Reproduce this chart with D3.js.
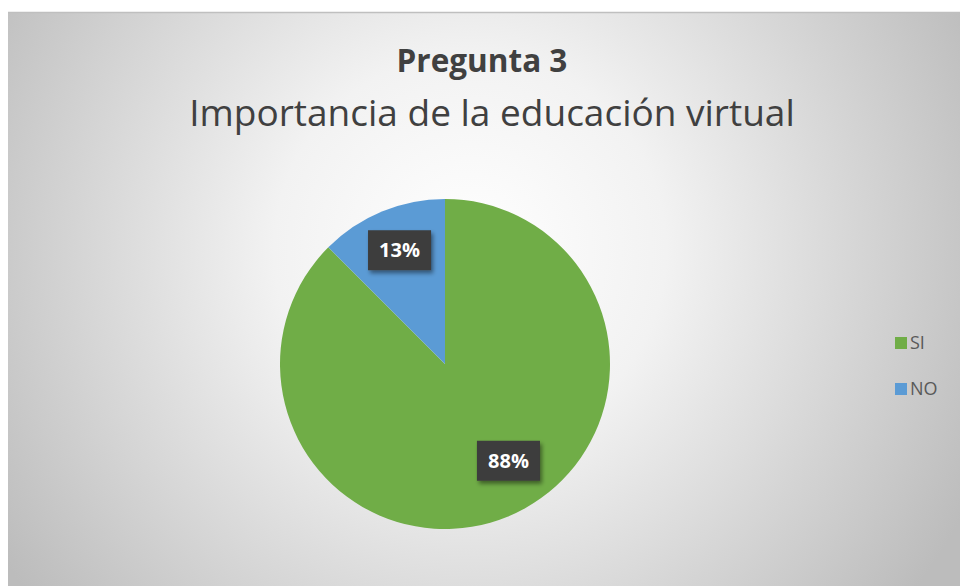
<!DOCTYPE html>
<html>
<head>
<meta charset="utf-8">
<script src="https://cdn.jsdelivr.net/npm/d3@7"></script>
<style>
  body { margin: 0; background: #fff; }
  svg { display: block; font-family: "Open Sans", "Noto Sans", sans-serif; }
</style>
</head>
<body>
<div id="chart"></div>
<script>
// data
var categories = ["SI", "NO"];
var values = [87.5, 12.5];
var labels = ["88%", "13%"];
var colors = ["#70ad47", "#5b9bd5"];

var svgWidth = 960;
var svgHeight = 586;

var svg = d3.select("#chart")
  .append("svg")
  .attr("width", svgWidth)
  .attr("height", svgHeight);

// background gradient like the chart area
var defs = svg.append("defs");
var grad = defs.append("radialGradient")
  .attr("id", "bg")
  .attr("gradientUnits", "userSpaceOnUse")
  .attr("cx", 470).attr("cy", 250).attr("r", 560);
grad.append("stop").attr("offset", "0%").attr("stop-color", "#ffffff");
grad.append("stop").attr("offset", "35%").attr("stop-color", "#f2f2f2");
grad.append("stop").attr("offset", "100%").attr("stop-color", "#bcbcbc");

var shadow = defs.append("filter").attr("id", "shadow")
  .attr("x", "-20%").attr("y", "-20%").attr("width", "150%").attr("height", "160%");
shadow.append("feDropShadow")
  .attr("dx", 2).attr("dy", 3).attr("stdDeviation", 2)
  .attr("flood-color", "#000").attr("flood-opacity", 0.45);

svg.append("rect")
  .attr("x", 8).attr("y", 12)
  .attr("width", svgWidth - 8).attr("height", svgHeight - 12)
  .attr("fill", "url(#bg)");
svg.append("line")
  .attr("x1", 8).attr("x2", svgWidth)
  .attr("y1", 12.5).attr("y2", 12.5)
  .attr("stroke", "#bfbfbf").attr("stroke-width", 1.5);

// titles
svg.append("text")
  .attr("x", 482).attr("y", 72)
  .attr("text-anchor", "middle")
  .attr("font-size", "31.5px")
  .attr("font-weight", "bold")
  .attr("fill", "#404040")
  .text("Pregunta 3");

svg.append("text")
  .attr("x", 492).attr("y", 126)
  .attr("text-anchor", "middle")
  .attr("font-size", "37px")
  .attr("fill", "#404040")
  .text("Importancia de la educación virtual");

// pie
var cx = 445, cy = 364, radius = 165;
var pie = d3.pie().sort(null).value(d => d);
var arcs = pie(values);

var arc = d3.arc().innerRadius(0).outerRadius(radius);
var labelArc = d3.arc().innerRadius(radius * 0.72).outerRadius(radius * 0.72);

var pieGroup = svg.append("g")
  .attr("transform", `translate(${cx}, ${cy})`);

pieGroup.selectAll("path")
  .data(arcs)
  .enter()
  .append("path")
  .attr("d", arc)
  .attr("fill", (d, i) => colors[i]);

// data labels in dark boxes
var lab = pieGroup.selectAll(".lab")
  .data(arcs)
  .enter()
  .append("g")
  .attr("class", "lab")
  .attr("transform", function(d, i) {
    var c = labelArc.centroid(d);
    // Excel nudges the labels a little
    if (i === 0) { c = [c[0] + 18, c[1] - 13]; }
    else { c = [c[0], c[1] - 4]; }
    return `translate(${c[0]}, ${c[1]})`;
  });

lab.append("rect")
  .attr("x", -31.5).attr("y", -20)
  .attr("width", 63).attr("height", 40)
  .attr("fill", "#3d3d3d")
  .attr("filter", "url(#shadow)");

lab.append("text")
  .attr("text-anchor", "middle")
  .attr("dy", "0.36em")
  .attr("fill", "#ffffff")
  .attr("font-size", "20px")
  .attr("font-weight", "bold")
  .text((d, i) => labels[i]);

// legend
var legend = svg.append("g")
  .attr("transform", "translate(895, 337)");

var item = legend.selectAll("g")
  .data(categories)
  .enter()
  .append("g")
  .attr("transform", (d, i) => `translate(0, ${i * 46})`);

item.append("rect")
  .attr("width", 12).attr("height", 12)
  .attr("fill", (d, i) => colors[i]);

item.append("text")
  .attr("x", 15).attr("y", 6)
  .attr("dy", "0.36em")
  .attr("font-size", "18px")
  .attr("fill", "#595959")
  .text(d => d);
</script>
</body>
</html>
